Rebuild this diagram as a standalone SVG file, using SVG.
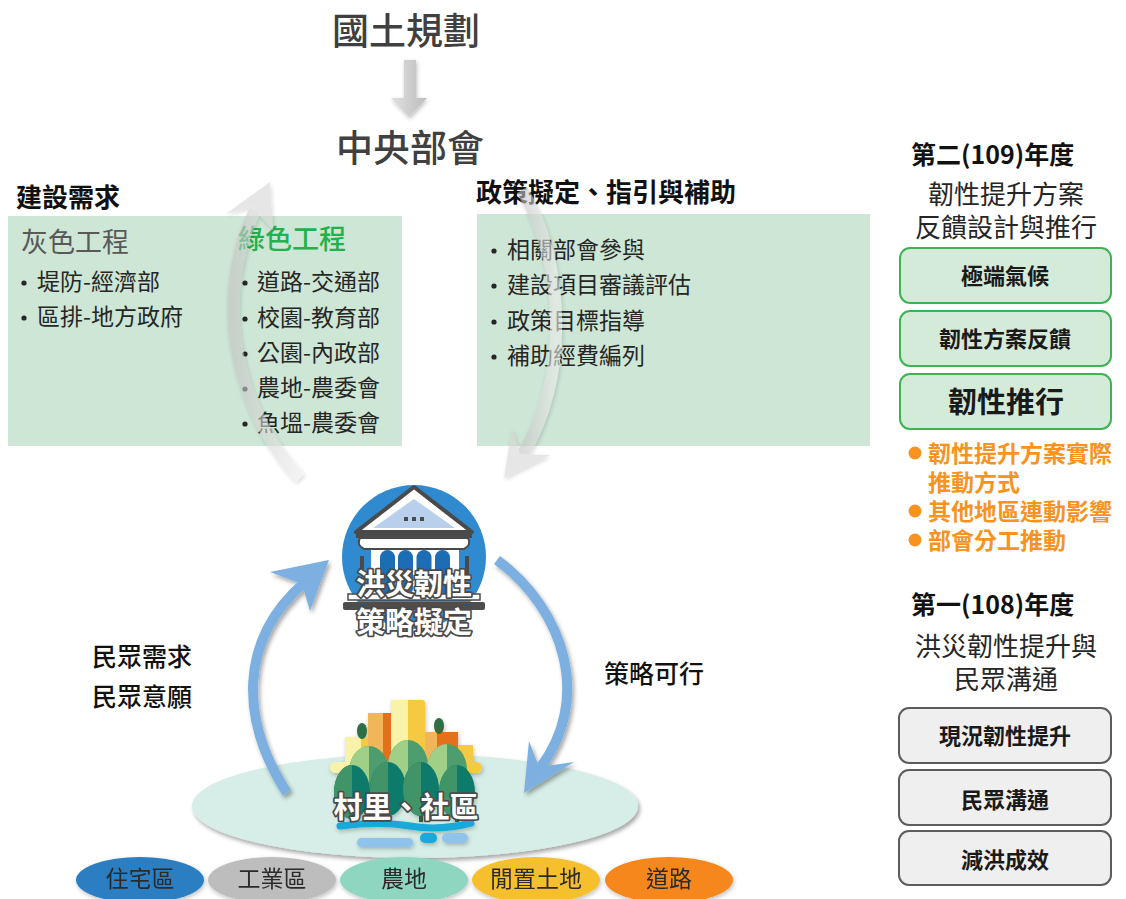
<svg xmlns="http://www.w3.org/2000/svg" width="1126" height="899" viewBox="0 0 1126 899">
  <style>
    text { font-family: "Noto Sans CJK TC", "Noto Sans CJK SC", "Noto Sans", sans-serif; }
    .title { font-size: 37px; font-weight: 500; fill: #404040; text-anchor: middle; }
    .head { font-size: 26px; font-weight: 700; fill: #111; }
    .item { font-size: 23px; fill: #262626; }
    .dot { fill: #262626; }
    .panelsub { font-size: 26px; fill: #262626; text-anchor: middle; }
    .boxtxt { font-size: 22px; font-weight: 700; fill: #1a1a1a; text-anchor: middle; }
    .orange { font-size: 23px; font-weight: 700; fill: #f7931e; }
    .mid { font-size: 25px; font-weight: 500; fill: #111; }
    .icontxt { font-size: 29px; font-weight: 700; fill: #fff; text-anchor: middle; stroke: #4a4a4a; stroke-width: 3.5; paint-order: stroke; stroke-linejoin: round; }
    .land { font-size: 23px; fill: #2b2b2b; text-anchor: middle; }
    .greenbox { fill: #cde6d5; }
    .stagebox { fill: #d5ebda; stroke: #3cb451; stroke-width: 2; }
    .greybox { fill: #efefef; stroke: #5c5c5c; stroke-width: 2; }
    .greyarrow { fill: none; stroke: url(#greyShaft); stroke-width: 12; }
    .greyhead { fill: #d6d6d6; }
    .bluearrow { fill: none; stroke: #7db0e0; stroke-width: 10; }
    .bluehead { fill: #7db0e0; }
  </style>
  <defs>
    <filter id="shadow" x="-20%" y="-20%" width="140%" height="140%">
      <feDropShadow dx="2" dy="3" stdDeviation="2" flood-color="#000" flood-opacity="0.35"/>
    </filter>
    <filter id="softShadow" x="-20%" y="-20%" width="140%" height="140%">
      <feDropShadow dx="1" dy="2" stdDeviation="2" flood-color="#000" flood-opacity="0.25"/>
    </filter>
    <linearGradient id="greyShaft" x1="0" y1="0" x2="1" y2="0">
      <stop offset="0" stop-color="#c4c4c4"/>
      <stop offset="1" stop-color="#ececec"/>
    </linearGradient>
    <linearGradient id="downArrow" x1="0" y1="0" x2="1" y2="0">
      <stop offset="0" stop-color="#e0e0e0"/>
      <stop offset="1" stop-color="#bdbdbd"/>
    </linearGradient>
  </defs>

  <rect width="1126" height="899" fill="#ffffff"/>

  <!-- top: national planning -> ministries -->
  <g id="national-planning">
    <text class="title" x="406" y="45">國土規劃</text>
  </g>
  <g id="ministries">
    <text class="title" x="410" y="162">中央部會</text>
  </g>

  <!-- construction demand -->
  <g id="construction-demand">
    <text class="head" x="16" y="207">建設需求</text>
    <rect class="greenbox" x="8" y="216" width="394" height="230"/>
    <text x="21" y="252" style="font-size:27px;fill:#595959">灰色工程</text>
    <text x="238" y="249" style="font-size:27px;fill:#22b14c;font-weight:500">綠色工程</text>
    <circle class="dot" cx="24" cy="283" r="2.6"/>
    <text class="item" x="37" y="290">堤防-經濟部</text>
    <circle class="dot" cx="24" cy="318" r="2.6"/>
    <text class="item" x="37" y="325">區排-地方政府</text>
    <circle class="dot" cx="245" cy="283" r="2.6"/>
    <text class="item" x="257" y="290">道路-交通部</text>
    <circle class="dot" cx="245" cy="319" r="2.6"/>
    <text class="item" x="257" y="326">校園-教育部</text>
    <circle class="dot" cx="245" cy="354" r="2.6"/>
    <text class="item" x="257" y="361">公園-內政部</text>
    <circle class="dot" cx="245" cy="389" r="2.6"/>
    <text class="item" x="257" y="396">農地-農委會</text>
    <circle class="dot" cx="245" cy="424" r="2.6"/>
    <text class="item" x="257" y="431">魚塭-農委會</text>
  </g>

  <!-- policy guidance -->
  <g id="policy-guidance">
    <text class="head" x="476" y="202">政策擬定、指引與補助</text>
    <rect class="greenbox" x="477" y="214" width="393" height="232"/>
    <circle class="dot" cx="494" cy="251" r="2.6"/>
    <text class="item" x="507" y="258">相關部會參與</text>
    <circle class="dot" cx="494" cy="286" r="2.6"/>
    <text class="item" x="507" y="293">建設項目審議評估</text>
    <circle class="dot" cx="494" cy="322" r="2.6"/>
    <text class="item" x="507" y="329">政策目標指導</text>
    <circle class="dot" cx="494" cy="357" r="2.6"/>
    <text class="item" x="507" y="364">補助經費編列</text>
  </g>

  <!-- strategy node: building icon -->
  <g id="strategy">
    <circle cx="414" cy="557" r="72" fill="#2f8ad0"/>
    <rect x="371" y="546" width="88" height="48" fill="#ffffff"/>
    <rect x="380" y="550" width="15" height="46" rx="7.5" fill="#1d6db5"/>
    <rect x="398" y="550" width="15" height="46" rx="7.5" fill="#1d6db5"/>
    <rect x="416.5" y="550" width="15" height="46" rx="7.5" fill="#1d6db5"/>
    <rect x="435" y="550" width="15" height="46" rx="7.5" fill="#1d6db5"/>
    <rect x="360" y="556" width="4" height="18" fill="#4a4a4a"/>
    <rect x="465" y="556" width="4" height="18" fill="#4a4a4a"/>
    <polygon points="414,487 356,532 472,532" fill="#ffffff" stroke="#4a4a4a" stroke-width="4" stroke-linejoin="round"/>
    <polygon points="414,499 373,528 455,528" fill="#b9d0ec"/>
    <rect x="404" y="517" width="4" height="4" fill="#4a4a4a"/>
    <rect x="412" y="517" width="4" height="4" fill="#4a4a4a"/>
    <rect x="420" y="517" width="4" height="4" fill="#4a4a4a"/>
    <rect x="356" y="533" width="116" height="5" fill="#4a4a4a"/>
    <path d="M360,538 H468 Q472,545 464,549 H364 Q356,545 360,538 Z" fill="#ffffff" stroke="#4a4a4a" stroke-width="2"/>
    <rect x="348" y="594" width="132" height="6" fill="#ffffff" stroke="#4a4a4a" stroke-width="1.5"/>
    <rect x="343" y="602" width="142" height="8" rx="2" fill="#4d4d4d"/>
    <text class="icontxt" x="414" y="595">洪災韌性</text>
    <text class="icontxt" x="414" y="633">策略擬定</text>
  </g>

  <!-- side labels of the cycle -->
  <g id="public-needs">
    <text class="mid" x="92" y="666">民眾需求</text>
    <text class="mid" x="92" y="706">民眾意願</text>
  </g>
  <g id="strategy-feasible">
    <text class="mid" x="604" y="683">策略可行</text>
  </g>

  <!-- village / community node -->
  <g id="village">
    <ellipse cx="415" cy="806" rx="223" ry="52" fill="#d6eee7" filter="url(#shadow)"/>
    <g filter="url(#softShadow)">
      <rect x="391" y="700" width="34" height="70" rx="3" fill="#f5c943"/>
      <rect x="391" y="700" width="17" height="70" fill="#f8f3a8"/>
      <rect x="368" y="713" width="23" height="57" fill="#e56f1f"/>
      <rect x="368" y="713" width="15" height="57" fill="#f2b65a"/>
      <rect x="345" y="737" width="23" height="33" fill="#f5c943"/>
      <rect x="345" y="737" width="16" height="33" fill="#f8f3a8"/>
      <rect x="425" y="732" width="33" height="38" fill="#e56f1f"/>
      <rect x="425" y="732" width="12" height="38" fill="#f2b65a"/>
      <rect x="458" y="745" width="15" height="25" fill="#f5c943"/>
      <rect x="330" y="762" width="152" height="11" rx="5.5" fill="#f8f3a8"/>
      <rect x="440" y="762" width="42" height="11" rx="5.5" fill="#f5c943"/>
      <ellipse cx="362" cy="731" rx="5" ry="8" fill="#2f6e45"/>
      <ellipse cx="439" cy="726" rx="5" ry="8" fill="#2f6e45"/>
      <!-- back row of trees -->
      <ellipse cx="369" cy="772" rx="20" ry="26" fill="#4e9d6e"/>
      <path d="M369,746 A20,26 0 0 0 369,798 Z" fill="#a0cf88"/>
      <ellipse cx="408" cy="766" rx="20" ry="26" fill="#4e9d6e"/>
      <path d="M408,740 A20,26 0 0 0 408,792 Z" fill="#a0cf88"/>
      <ellipse cx="447" cy="770" rx="20" ry="26" fill="#4e9d6e"/>
      <path d="M447,744 A20,26 0 0 0 447,796 Z" fill="#a0cf88"/>
      <!-- trunks -->
      <rect x="350" y="808" width="4" height="14" fill="#2c5e3e"/>
      <rect x="386" y="806" width="4" height="16" fill="#2c5e3e"/>
      <rect x="419" y="806" width="4" height="16" fill="#2c5e3e"/>
      <rect x="455" y="808" width="4" height="14" fill="#2c5e3e"/>
      <!-- front row of trees -->
      <ellipse cx="352" cy="792" rx="18" ry="27" fill="#0e7a6c"/>
      <path d="M352,765 A18,27 0 0 0 352,819 Z" fill="#3f9468"/>
      <ellipse cx="388" cy="789" rx="18" ry="27" fill="#0e7a6c"/>
      <path d="M388,762 A18,27 0 0 0 388,816 Z" fill="#3f9468"/>
      <ellipse cx="421" cy="789" rx="18" ry="27" fill="#0e7a6c"/>
      <path d="M421,762 A18,27 0 0 0 421,816 Z" fill="#3f9468"/>
      <ellipse cx="457" cy="792" rx="18" ry="27" fill="#0e7a6c"/>
      <path d="M457,765 A18,27 0 0 0 457,819 Z" fill="#3f9468"/>
      <!-- stream -->
      <path d="M340,826 Q380,821 410,826 T471,823" fill="none" stroke="#12a9d9" stroke-width="7" stroke-linecap="round"/>
      <rect x="357" y="838" width="56" height="9" rx="4.5" fill="#8fc3ec"/>
      <rect x="420" y="833" width="17" height="10" rx="5" fill="#12a9d9"/>
      <rect x="442" y="833" width="26" height="10" rx="5" fill="#8fc3ec"/>
    </g>
    <text class="icontxt" x="406" y="818">村里、社區</text>
  </g>

  <!-- land uses -->
  <g id="land-uses" filter="url(#softShadow)">
    <g id="land-residential">
      <ellipse cx="140" cy="880" rx="64" ry="23" fill="#2b7ec1"/>
      <text class="land" x="140" y="887">住宅區</text>
    </g>
    <g id="land-industrial">
      <ellipse cx="272" cy="880" rx="64" ry="23" fill="#bdbdbd"/>
      <text class="land" x="272" y="887">工業區</text>
    </g>
    <g id="land-farm">
      <ellipse cx="404" cy="880" rx="64" ry="23" fill="#8fd6c0"/>
      <text class="land" x="404" y="887">農地</text>
    </g>
    <g id="land-idle">
      <ellipse cx="536" cy="880" rx="64" ry="23" fill="#f6bf2d"/>
      <text class="land" x="536" y="887">閒置土地</text>
    </g>
    <g id="land-road">
      <ellipse cx="669" cy="880" rx="64" ry="23" fill="#f6871f"/>
      <text class="land" x="669" y="887">道路</text>
    </g>
  </g>

  <!-- connectors -->
  <g id="connectors">
    <!-- planning down to ministries -->
    <path d="M404,60 H416 V98 H427 L409,117 L391,98 H404 Z" fill="url(#downArrow)" filter="url(#softShadow)"/>
    <!-- demand up to ministries -->
    <g filter="url(#softShadow)" opacity="0.6">
      <path class="greyarrow" d="M300,478 C236,410 212,300 255,210"/>
      <path class="greyhead" d="M270,182 L226,214 L252,206 L273,230 Z"/>
    </g>
    <!-- ministries down to strategy -->
    <g filter="url(#softShadow)" opacity="0.6">
      <path class="greyarrow" d="M522,190 C565,260 570,380 522,455"/>
      <path class="greyhead" d="M504,478 L512,428 L520,454 L550,455 Z"/>
    </g>
    <!-- village up to strategy -->
    <g filter="url(#shadow)">
      <path class="bluearrow" d="M287,793 C240,720 238,640 305,582"/>
      <path class="bluehead" d="M329,560 L270,572 L302,584 L310,611 Z"/>
    </g>
    <!-- strategy down to village -->
    <g filter="url(#shadow)">
      <path class="bluearrow" d="M497,560 C565,610 592,700 540,768"/>
      <path class="bluehead" d="M524,793 L529,741 L539,767 L574,762 Z"/>
    </g>
  </g>

  <!-- second year (109) -->
  <g id="year-109">
    <text x="911" y="164" style="font-size:25px;font-weight:700;fill:#111">第二(109)年度</text>
    <text class="panelsub" x="1006" y="204">韌性提升方案</text>
    <text class="panelsub" x="1006" y="237">反饋設計與推行</text>
  </g>
  <g id="extreme-climate">
    <rect class="stagebox" x="900" y="248" width="211" height="55" rx="10"/>
    <text class="boxtxt" x="1005" y="284">極端氣候</text>
  </g>
  <g id="plan-feedback">
    <rect class="stagebox" x="900" y="311" width="211" height="55" rx="10"/>
    <text class="boxtxt" x="1005" y="347">韌性方案反饋</text>
  </g>
  <g id="resilience-promotion">
    <rect class="stagebox" x="900" y="374" width="211" height="55" rx="10"/>
    <text class="boxtxt" x="1006" y="413" style="font-size:29px">韌性推行</text>
  </g>
  <g id="promotion-notes">
    <circle cx="915" cy="453" r="6.5" fill="#f7931e"/>
    <text class="orange" x="928" y="462">韌性提升方案實際</text>
    <text class="orange" x="928" y="491">推動方式</text>
    <circle cx="915" cy="511" r="6.5" fill="#f7931e"/>
    <text class="orange" x="928" y="520">其他地區連動影響</text>
    <circle cx="915" cy="540" r="6.5" fill="#f7931e"/>
    <text class="orange" x="928" y="549">部會分工推動</text>
  </g>

  <!-- first year (108) -->
  <g id="year-108">
    <text x="911" y="614" style="font-size:25px;font-weight:700;fill:#111">第一(108)年度</text>
    <text class="panelsub" x="1006" y="656">洪災韌性提升與</text>
    <text class="panelsub" x="1006" y="689">民眾溝通</text>
  </g>
  <g id="current-resilience">
    <rect class="greybox" x="899" y="708" width="212" height="55" rx="10"/>
    <text class="boxtxt" x="1005" y="744">現況韌性提升</text>
  </g>
  <g id="public-communication">
    <rect class="greybox" x="899" y="770" width="212" height="55" rx="10"/>
    <text class="boxtxt" x="1005" y="808">民眾溝通</text>
  </g>
  <g id="flood-reduction">
    <rect class="greybox" x="899" y="831" width="212" height="54" rx="10"/>
    <text class="boxtxt" x="1005" y="868">減洪成效</text>
  </g>
</svg>
